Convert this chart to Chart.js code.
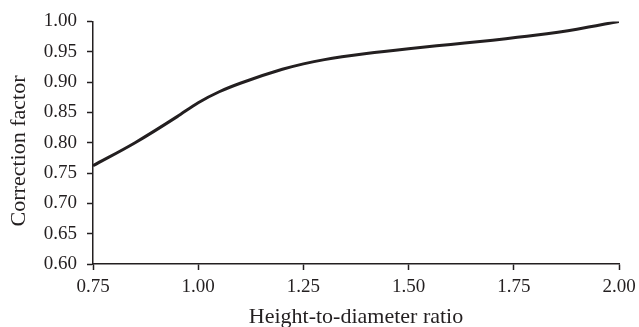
<!DOCTYPE html>
<html>
<head>
<meta charset="utf-8">
<script src="https://cdn.jsdelivr.net/npm/chart.js@4.4.1/dist/chart.umd.min.js"></script>
<style>
  html, body { margin: 0; padding: 0; background: #fff; }
  #wrap { width: 639px; height: 327px; }
</style>
</head>
<body>
<div id="wrap"><canvas id="cf-chart"></canvas></div>
<script>
// height-to-diameter ratio vs. correction factor
const ratios  = [0.75, 0.85, 0.95, 1.00, 1.05, 1.10, 1.20, 1.25, 1.30, 1.40, 1.50, 1.60, 1.70, 1.80, 1.90, 2.00];
const factors = [0.762, 0.800, 0.843, 0.866, 0.884, 0.898, 0.921, 0.930, 0.937, 0.947, 0.955, 0.962, 0.969, 0.977, 0.987, 1.000];

const xTicks = [0.75, 1.00, 1.25, 1.50, 1.75, 2.00];
const yMin = 0.60, yMax = 1.00, yStep = 0.05;

const INK        = '#231f20';
const SERIF      = '"Liberation Serif", "Times New Roman", serif';
const TICK_FONT  = { family: SERIF, size: 19 };
const TITLE_FONT = { family: SERIF, size: 22 };

new Chart(document.getElementById('cf-chart'), {
    type: 'line',
    data: {
        datasets: [{
            data:        ratios.map((r, i) => ({ x: r, y: factors[i] })),
            borderColor: INK,
            borderWidth: 3,
            pointRadius: 0,
            cubicInterpolationMode: 'monotone',
            fill:        false,
        }],
    },
    options: {
        responsive:          true,
        maintainAspectRatio: false,
        animation:           false,
        layout: { padding: { top: 11, right: 0, left: 0, bottom: 0 } },
        plugins: {
            legend:  { display: false },
            tooltip: { enabled: false },
        },
        scales: {
            x: {
                type: 'linear',
                min:  xTicks[0],
                max:  xTicks[xTicks.length - 1],
                afterBuildTicks: s => { s.ticks = xTicks.map(v => ({ value: v })); },
                border: { color: INK, width: 1.5 },
                grid:   { drawOnChartArea: false, tickLength: 6, tickColor: INK, tickWidth: 1.5 },
                ticks:  { color: INK, font: TICK_FONT, padding: 6, maxRotation: 0, callback: v => v.toFixed(2) },
                title:  { display: true, text: 'Height-to-diameter ratio', color: INK, font: TITLE_FONT, padding: { top: 4, bottom: -3 } },
                afterFit: s => { s.height = 63; s.paddingRight = 20; },
            },
            y: {
                min: yMin,
                max: yMax,
                border: { color: INK, width: 1.5 },
                grid:   { drawOnChartArea: false, tickLength: 6, tickColor: INK, tickWidth: 1.5 },
                ticks:  { color: INK, font: TICK_FONT, padding: 10, stepSize: yStep, callback: v => v.toFixed(2) },
                // trailing spaces nudge the rotated title toward the x axis
                title:  { display: true, text: 'Correction factor   ', color: INK, font: TITLE_FONT, padding: { top: 6, bottom: 0 } },
                afterFit: s => { s.width = 93; },
            },
        },
    },
});
</script>
</body>
</html>
